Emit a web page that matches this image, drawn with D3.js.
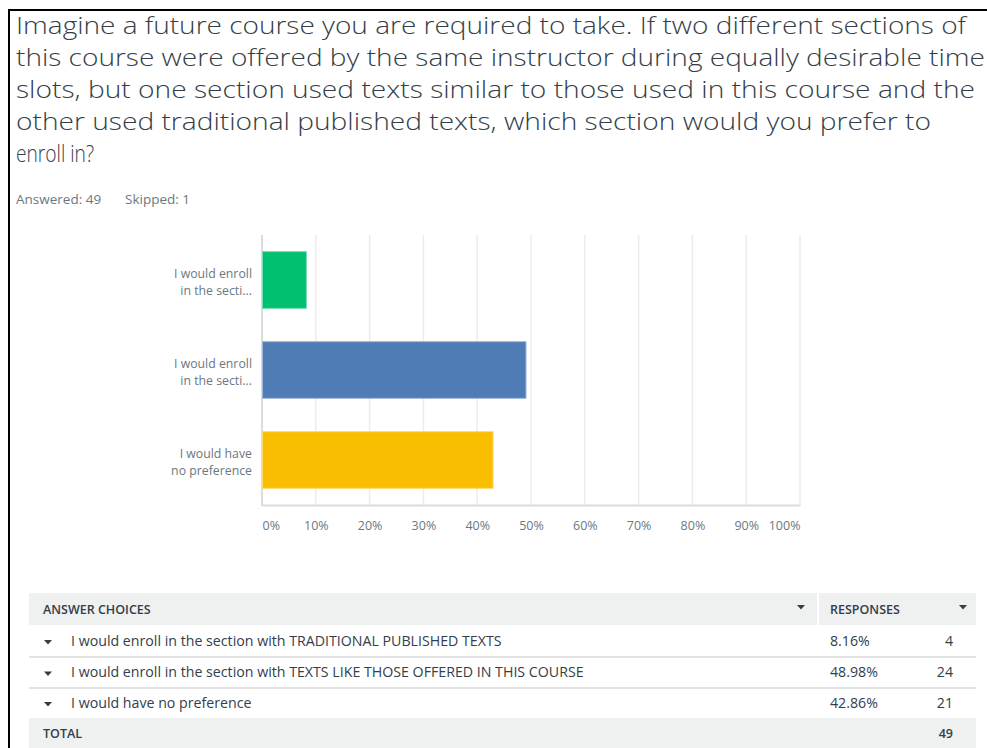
<!DOCTYPE html>
<html lang="en">
<head>
  <meta charset="utf-8">
  <title>Course texts preference</title>
  <script src="https://d3js.org/d3.v7.min.js"></script>
  <style>
    body { margin: 0; background: #fff; font-family: 'Open Sans', sans-serif; }
    .title { fill: #333e48; font-size: 24px; font-weight: 300; }
    .meta { fill: #6b787f; font-size: 13.5px; }
    .cat { fill: #6b787f; font-size: 12.3px; }
    .tick text { fill: #6b787f; font-size: 12.5px; }
    .grid line { stroke: #ececec; stroke-width: 1.5px; }
    .th { fill: #333e48; font-size: 12.5px; font-weight: 600; }
    .td { fill: #333e48; font-size: 14.2px; }
  </style>
</head>
<body>
<div id="chart"></div>
<script>

var titleLines = [
  'Imagine a future course you are required to take. If two different sections of',
  'this course were offered by the same instructor during equally desirable time',
  'slots, but one section used texts similar to those used in this course and the',
  'other used traditional published texts, which section would you prefer to',
  'enroll in?'
];
var titleWidths = [950, 969, 959, 915, 78];

var answered = 49;
var skipped = 1;

var categories = [
  'I would enroll in the section with TRADITIONAL PUBLISHED TEXTS',
  'I would enroll in the section with TEXTS LIKE THOSE OFFERED IN THIS COURSE',
  'I would have no preference'
];
var shortLabels = [
  ['I would enroll', 'in the secti...'],
  ['I would enroll', 'in the secti...'],
  ['I would have', 'no preference']
];
var percents = [8.16, 48.98, 42.86];
var counts = [4, 24, 21];
var barColors = ['#00bf6f', '#507cb6', '#f9be00'];
var xTicks = [0, 10, 20, 30, 40, 50, 60, 70, 80, 90, 100];

var W = 987, H = 748;
var svg = d3.select('#chart').append('svg')
  .attr('width', W)
  .attr('height', H);

// frame (black lines on the top and left)
svg.append('rect').attr('x', 8).attr('y', 9).attr('width', W).attr('height', 2).attr('fill', '#000');
svg.append('rect').attr('x', 8).attr('y', 9).attr('width', 2).attr('height', H).attr('fill', '#000');

// title
svg.selectAll('.title')
  .data(titleLines)
  .enter()
  .append('text')
  .attr('class', 'title')
  .attr('x', 16)
  .attr('y', function(d, i) { return 34 + i * 32; })
  .attr('textLength', function(d, i) { return titleWidths[i]; })
  .attr('lengthAdjust', 'spacingAndGlyphs')
  .text(function(d) { return d; });

svg.append('text').attr('class', 'meta').attr('x', 16).attr('y', 204).text('Answered: ' + answered);
svg.append('text').attr('class', 'meta').attr('x', 125).attr('y', 204).text('Skipped: ' + skipped);

// chart
var plot = { left: 262, right: 800, top: 235, bottom: 505 };

var xScale = d3.scaleLinear()
  .domain([0, 100])
  .range([plot.left, plot.right]);

var yScale = d3.scaleBand()
  .domain(d3.range(categories.length))
  .range([plot.top, plot.bottom])
  .paddingInner(0.37)
  .paddingOuter(0.185);

var grid = svg.append('g').attr('class', 'grid');
grid.selectAll('line')
  .data(xTicks.slice(1))
  .enter()
  .append('line')
  .attr('x1', function(d) { return xScale(d); })
  .attr('x2', function(d) { return xScale(d); })
  .attr('y1', plot.top)
  .attr('y2', plot.bottom);

var xAxis = d3.axisBottom(xScale)
  .tickValues(xTicks)
  .tickSize(0)
  .tickPadding(16)
  .tickFormat(function(d) { return d + '%'; });

var gx = svg.append('g')
  .attr('transform', 'translate(0,' + plot.bottom + ')')
  .call(xAxis)
  .attr('font-family', null)
  .attr('font-size', null);
gx.select('.domain').attr('stroke', '#dcdcdc').attr('stroke-width', 2);
gx.selectAll('.tick text')
  .attr('text-anchor', function(d) { return d === 0 ? 'start' : (d === 100 ? 'end' : 'middle'); });

svg.append('line')
  .attr('x1', plot.left).attr('x2', plot.left)
  .attr('y1', plot.top).attr('y2', plot.bottom + 1)
  .attr('stroke', '#dcdcdc')
  .attr('stroke-width', 2);

svg.selectAll('.bar')
  .data(percents)
  .enter()
  .append('rect')
  .attr('class', 'bar')
  .attr('x', xScale(0) + 0.5)
  .attr('y', function(d, i) { return yScale(i); })
  .attr('width', function(d) { return xScale(d) - xScale(0); })
  .attr('height', yScale.bandwidth())
  .attr('fill', function(d, i) { return barColors[i]; })
  .attr('stroke', function(d, i) { return d3.interpolateRgb(barColors[i], '#ffffff')(0.45); })
  .attr('stroke-width', 1);

// two-line category labels, one text per line
shortLabels.forEach(function(lines, i) {
  lines.forEach(function(line, j) {
    svg.append('text')
      .attr('class', 'cat')
      .attr('text-anchor', 'end')
      .attr('x', 252)
      .attr('y', yScale(i) + yScale.bandwidth() / 2 - 2.5 + j * 17)
      .text(line);
  });
});

// table
var table = { left: 29, right: 976, split: 817 };
var rowTop = [593, 625, 657, 688, 718];
var rowH = [32, 32, 31, 30, 32];

var caret = function(x, y) {
  svg.append('path')
    .attr('d', 'M' + (x - 4) + ',' + (y - 2) + 'L' + (x + 4) + ',' + (y - 2) + 'L' + x + ',' + (y + 2.5) + 'Z')
    .attr('fill', '#333e48');
};

svg.append('rect')
  .attr('x', table.left).attr('y', rowTop[0])
  .attr('width', table.right - table.left).attr('height', rowH[0])
  .attr('fill', '#eff0f0');
svg.append('rect')
  .attr('x', table.split).attr('y', rowTop[0])
  .attr('width', 2).attr('height', rowH[0])
  .attr('fill', '#fff');
svg.append('text').attr('class', 'th').attr('x', 43).attr('y', 614).text('ANSWER CHOICES');
svg.append('text').attr('class', 'th').attr('x', 830).attr('y', 614).text('RESPONSES');
caret(801, 607);
caret(963, 607);

categories.forEach(function(c, i) {
  var top = rowTop[i + 1];
  var mid = top + rowH[i + 1] / 2;
  caret(48, mid + 1);
  svg.append('text').attr('class', 'td').attr('x', 71).attr('y', mid + 4.5).text(c);
  svg.append('text').attr('class', 'td').attr('x', 830).attr('y', mid + 4.5).text(percents[i].toFixed(2) + '%');
  svg.append('text').attr('class', 'td').attr('x', 953).attr('y', mid + 4.5)
    .attr('text-anchor', 'end').text(counts[i]);
  if (i < categories.length - 1) {
    svg.append('line')
      .attr('x1', table.left).attr('x2', table.right)
      .attr('y1', top + rowH[i + 1]).attr('y2', top + rowH[i + 1])
      .attr('stroke', '#d9d9d9').attr('stroke-width', 1.5);
  }
});

svg.append('rect')
  .attr('x', table.left).attr('y', rowTop[4])
  .attr('width', table.right - table.left).attr('height', rowH[4])
  .attr('fill', '#eff0f0');
svg.append('text').attr('class', 'th').attr('x', 43).attr('y', 738).text('TOTAL');
svg.append('text').attr('class', 'th').attr('x', 953).attr('y', 738)
  .attr('text-anchor', 'end').text(d3.sum(counts));

</script>
</body>
</html>
